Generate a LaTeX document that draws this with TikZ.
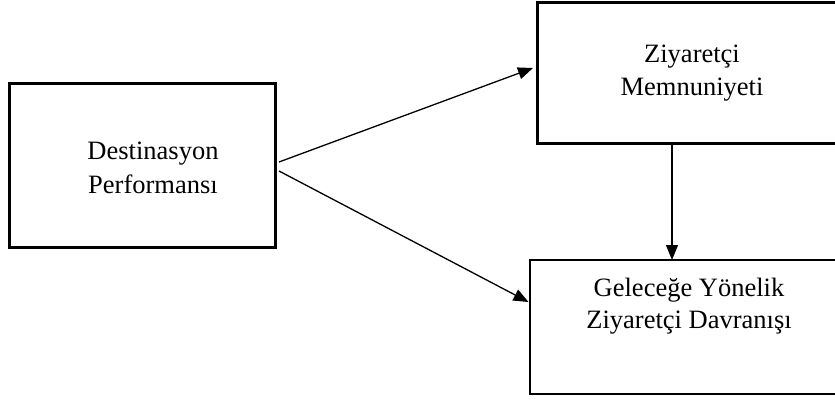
\documentclass[tikz,border=0pt]{standalone}
\usepackage{fontspec}
\setmainfont{Liberation Serif}
\usetikzlibrary{arrows.meta,calc}
\begin{document}
\begin{tikzpicture}[x=1pt,y=-1pt,
  box/.style={draw=black, rectangle, inner sep=0pt, outer sep=0pt},
  thickbox/.style={box, line width=3pt},
  thinbox/.style={box, line width=2.2pt},
  lbl/.style={inner sep=0pt, outer sep=0pt, anchor=base, font=\fontsize{26.5}{34}\selectfont},
  arr/.style={line width=1.3pt, -{Triangle[length=15pt,width=12pt]}}]
\useasboundingbox (0,0) rectangle (835,401);
\clip (0,0) rectangle (835,401);
\fill[white] (0,0) rectangle (835,401);
% boxes
\node[thickbox, minimum width=266pt, minimum height=163pt] (dp) at (142,165.5) {};
\node[thickbox, minimum width=312pt, minimum height=141pt] (zm) at (693,73.5) {};
\node[thinbox, minimum width=312pt, minimum height=134pt] (gz) at (686,327) {};
% texts
\node[lbl] (dp1) at (153,160) {Destinasyon};
\node[lbl] (dp2) at (153,193) {Performansı};
\node[lbl] (zm1) at (692,62.5) {Ziyaretçi};
\node[lbl] (zm2) at (692,96) {Memnuniyeti};
\node[lbl] (gz1) at (689,296) {Geleceğe Yönelik};
\node[lbl] (gz2) at (689,328.5) {Ziyaretçi Davranışı};
% connectors
\coordinate (v) at (672,0);
\draw[arr] ($(dp.east)+(4,-3.5)$) -- ($(zm.west)+(-4,-5.5)$);
\draw[arr] ($(dp.east)+(4,5.5)$) -- ($(gz.west)+(-1.5,-25)$);
\draw[arr] (zm.south -| v) -- (gz.north -| v);
\end{tikzpicture}
\end{document}
